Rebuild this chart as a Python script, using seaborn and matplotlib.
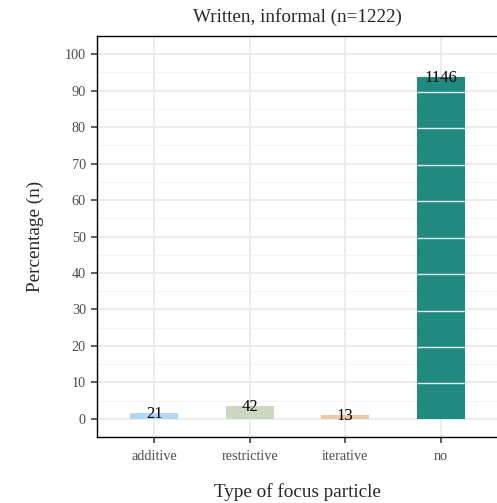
import matplotlib
matplotlib.use("Agg")
import matplotlib.pyplot as plt
import seaborn as sns
import pandas as pd
import numpy as np

categories = ["additive", "restrictive", "iterative", "no"]
counts = [21, 42, 13, 1146]
colors = ["#B5D8F2", "#CCD6C0", "#EDC9A5", "#218A80"]
yticks = [0, 10, 20, 30, 40, 50, 60, 70, 80, 90, 100]

total = sum(counts)
df = pd.DataFrame({"cat": categories, "n": counts})
df["pct"] = df["n"] / total * 100

sns.set_theme(style="white")
plt.rcParams["font.family"] = ["Liberation Serif", "DejaVu Serif"]

fig = plt.figure(figsize=(4.97, 5.03), dpi=100)
ax = fig.add_axes([97/497, 1-437/503, 401/497, 401/503])

sns.barplot(data=df, x="cat", y="pct", hue="cat", palette=colors, order=categories,
            width=0.5, legend=False, ax=ax, saturation=1, zorder=2, linewidth=0)

ax.set_ylim(-5, 105)
ax.set_xlim(-0.6, 3.6)
ax.set_yticks(yticks)
ax.set_yticks(np.arange(-5, 106, 10), minor=True)
ax.grid(True, which="major", color="#EBEBEB", linewidth=1.3, zorder=0)
ax.grid(True, which="minor", axis="y", color="#F4F4F4", linewidth=0.8, zorder=0)
ax.set_axisbelow(True)

# white lines across bars at major ticks
for p in ax.patches:
    x0 = p.get_x(); x1 = x0 + p.get_width(); h = p.get_height()
    for t in yticks:
        if 0 < t < h:
            ax.hlines(t - 0.3, x0, x1, color="white", linewidth=1.0, alpha=0.85, zorder=3)

for i, (c, v, n) in enumerate(zip(categories, df["pct"], counts)):
    ax.text(i, v - 0.3, str(n), ha="center", va="center", fontsize=12, color="black", zorder=4)

for s in ["left", "bottom", "top"]:
    ax.spines[s].set_visible(True)
    ax.spines[s].set_color("black")
    ax.spines[s].set_linewidth(1.0)
ax.spines["right"].set_visible(False)

ax.tick_params(axis="both", which="major", length=4.5, width=1.1, color="#333333",
               labelsize=10.3, labelcolor="#4D4D4D", direction="out", bottom=True, left=True, pad=3.5)
ax.tick_params(axis="x", which="major", pad=4.5)
ax.tick_params(axis="both", which="minor", length=0)

ax.set_xlabel("Type of focus particle", fontsize=13.8, labelpad=15)
ax.set_ylabel("Percentage (n)", fontsize=13.8, labelpad=15)
ax.set_title("Written, informal (n=1222)", fontsize=13.8, pad=10)

fig.savefig("out.png", dpi=100)
